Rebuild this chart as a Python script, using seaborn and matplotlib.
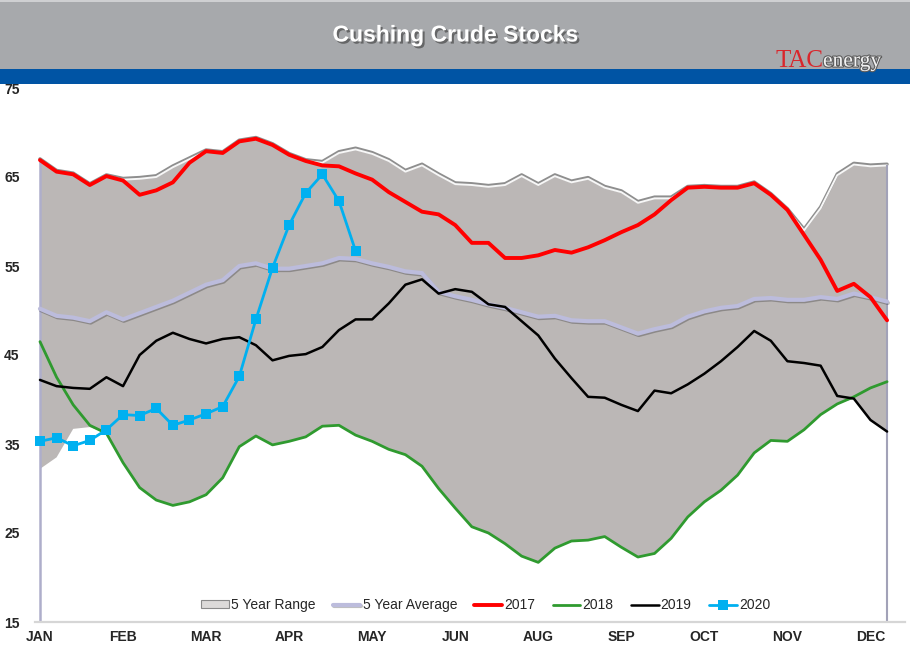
import matplotlib
matplotlib.use("Agg")
import matplotlib.pyplot as plt
import matplotlib.patheffects as pe
from matplotlib.patches import Rectangle, Patch
from matplotlib import font_manager as fm
import seaborn as sns

# ---------------- data ----------------
month_labels = ["JAN", "FEB", "MAR", "APR", "MAY", "JUN", "AUG", "SEP", "OCT", "NOV", "DEC"]
weeks = list(range(52))

range_high = [66.9, 65.6, 65.3, 64.1, 65.1, 64.7, 64.8, 65.0, 66.1, 67.0,
              67.9, 67.7, 69.0, 69.3, 68.6, 67.5, 66.8, 66.6, 67.7, 68.1,
              67.6, 66.8, 65.6, 66.3, 65.2, 64.2, 64.1, 63.9, 64.1, 65.1,
              64.1, 65.1, 64.4, 64.8, 63.8, 63.3, 62.1, 62.6, 62.6, 63.8,
              63.9, 63.8, 63.8, 64.3, 63.0, 61.3, 59.0, 61.5, 65.2, 66.4,
              66.2, 66.3]
range_low = [32.2, 33.5, 36.7, 36.9, 36.2, 32.9, 30.1, 28.7, 28.1, 28.5,
             29.3, 31.2, 34.7, 35.9, 34.9, 35.3, 35.8, 37.0, 37.1, 36.0,
             35.3, 34.4, 33.8, 32.5, 30.0, 27.8, 25.7, 25.0, 23.8, 22.4,
             21.7, 23.3, 24.1, 24.2, 24.6, 23.4, 22.3, 22.7, 24.4, 26.8,
             28.5, 29.8, 31.5, 34.0, 35.4, 35.3, 36.6, 38.3, 39.5, 40.1,
             37.7, 36.4]
avg5 = [50.2, 49.4, 49.2, 48.8, 49.8, 49.0, 49.7, 50.4, 51.1, 52.0,
        52.9, 53.4, 55.0, 55.3, 54.7, 54.7, 55.0, 55.3, 55.9, 55.8,
        55.3, 54.9, 54.4, 54.2, 52.1, 51.6, 51.2, 50.7, 50.3, 49.8,
        49.3, 49.4, 48.9, 48.8, 48.8, 48.1, 47.4, 47.9, 48.3, 49.3,
        49.9, 50.3, 50.5, 51.3, 51.4, 51.2, 51.2, 51.5, 51.3, 51.9,
        51.5, 51.0]
y2017 = [66.9, 65.6, 65.3, 64.1, 65.1, 64.6, 63.0, 63.5, 64.4, 66.6,
         67.9, 67.7, 69.0, 69.3, 68.6, 67.5, 66.8, 66.3, 66.2, 65.4,
         64.7, 63.3, 62.2, 61.1, 60.8, 59.6, 57.6, 57.6, 55.9, 55.9,
         56.2, 56.8, 56.5, 57.1, 57.9, 58.8, 59.6, 60.8, 62.4, 63.8,
         63.9, 63.8, 63.8, 64.3, 63.0, 61.3, 58.5, 55.7, 52.2, 53.0,
         51.5, 48.9]
y2018 = [46.5, 42.5, 39.4, 37.1, 36.2, 32.9, 30.1, 28.7, 28.1, 28.5,
         29.3, 31.2, 34.7, 35.9, 34.9, 35.3, 35.8, 37.0, 37.1, 36.0,
         35.3, 34.4, 33.8, 32.5, 30.0, 27.8, 25.7, 25.0, 23.8, 22.4,
         21.7, 23.3, 24.1, 24.2, 24.6, 23.4, 22.3, 22.7, 24.4, 26.8,
         28.5, 29.8, 31.5, 34.0, 35.4, 35.3, 36.6, 38.3, 39.5, 40.3,
         41.3, 42.0]
y2019 = [42.2, 41.5, 41.3, 41.2, 42.5, 41.5, 45.0, 46.6, 47.5, 46.8,
         46.3, 46.8, 47.0, 46.1, 44.4, 44.9, 45.1, 45.9, 47.8, 49.0,
         49.0, 50.8, 52.9, 53.5, 51.9, 52.4, 52.1, 50.7, 50.4, 48.8,
         47.2, 44.6, 42.4, 40.3, 40.2, 39.4, 38.7, 41.0, 40.7, 41.7,
         42.9, 44.3, 45.9, 47.7, 46.6, 44.3, 44.1, 43.8, 40.4, 40.1,
         37.7, 36.4]
y2020 = [35.3, 35.7, 34.8, 35.4, 36.6, 38.3, 38.2, 39.0, 37.1, 37.7,
         38.4, 39.2, 42.6, 49.0, 54.8, 59.6, 63.2, 65.3, 62.3, 56.7]
weeks2020 = weeks[:len(y2020)]

# ---------------- style ----------------
sns.set_style("white")
avail = {f.name for f in fm.fontManager.ttflist}
narrow = "Liberation Sans Narrow" if "Liberation Sans Narrow" in avail else "Liberation Sans"
plt.rcParams["font.family"] = ["Liberation Sans", "DejaVu Sans"]

W, H = 910, 659
fig = plt.figure(figsize=(W / 100, H / 100), dpi=100)
fig.patch.set_facecolor("white")

# header bands
fig.add_artist(Rectangle((0, 1 - 69 / H), 1, 69 / H, transform=fig.transFigure,
                         facecolor="#a7a9ac", edgecolor="none", zorder=0))
fig.add_artist(Rectangle((0, 1 - 2 / H), 1, 2 / H, transform=fig.transFigure,
                         facecolor="#cfd0d2", edgecolor="none", zorder=0))
fig.add_artist(Rectangle((0, 1 - 84 / H), 1, 15 / H, transform=fig.transFigure,
                         facecolor="#0054a4", edgecolor="none", zorder=0))
fig.text(455 / W, 1 - 35 / H, "Cushing Crude Stocks", ha="center", va="center",
         color="white", fontsize=16.5, fontweight="bold",
         path_effects=[pe.SimplePatchShadow(offset=(1.5, -1.5), shadow_rgbFace="#4a4a4a", alpha=0.7),
                       pe.Normal()])
fig.text(776 / W, 1 - 61 / H, "TAC", ha="left", va="center", color="#d9262c",
         fontsize=18, family=["Liberation Serif", "DejaVu Serif"])
fig.text(823 / W, 1 - 62 / H, "energy", ha="left", va="center", color="#f2f2f2",
         fontsize=15.5, family=["Liberation Serif", "DejaVu Serif"],
         path_effects=[pe.withStroke(linewidth=1.6, foreground="#5c5c5c")])

# plot area
ax = fig.add_axes([35 / W, 1 - 622 / H, 870 / W, 534 / H])
ax.set_facecolor("white")

ax.fill_between(weeks, range_low, range_high, facecolor="#bbb7b6", edgecolor="none",
                zorder=1, label="5 Year Range")
ax.plot(weeks, range_high, color="#f7f7f7", lw=1.4, zorder=1.2,
        path_effects=[pe.Stroke(linewidth=2.4, foreground="#8e8e8e", offset=(0, 0.9)), pe.Normal()])
ax.vlines(0, 15, range_high[0], color="#aeaecb", lw=1.8, zorder=1.3)
ax.vlines(51, 15, range_high[-1], color="#a2a2b8", lw=1.5, zorder=1.3)

sns.lineplot(x=weeks, y=avg5, ax=ax, color="#bcbcdc", lw=3.0, label="5 Year Average", zorder=2,
             path_effects=[pe.SimpleLineShadow(offset=(0.6, -1.0), alpha=0.25), pe.Normal()])
sns.lineplot(x=weeks, y=y2017, ax=ax, color="#ff0000", lw=2.8, label="2017", zorder=3)
sns.lineplot(x=weeks, y=y2018, ax=ax, color="#2f9a2f", lw=2.0, label="2018", zorder=3.1)
sns.lineplot(x=weeks, y=y2019, ax=ax, color="#000000", lw=1.8, label="2019", zorder=3.2)
sns.lineplot(x=weeks2020, y=y2020, ax=ax, color="#00b0f0", lw=2.0, marker="s",
             markersize=7.5, markeredgewidth=0, label="2020", zorder=4)

ax.set_xlim(-0.30, 52.08)
ax.set_ylim(15, 75)
ax.set_yticks(list(range(15, 76, 10)))
ax.set_xticks(list(range(0, 51, 5)))
ax.set_xticklabels(month_labels)
ax.set_xlabel("")
ax.set_ylabel("")
for lab in ax.get_xticklabels() + ax.get_yticklabels():
    lab.set_fontfamily([narrow, "DejaVu Sans"])
    lab.set_fontweight("bold")
    lab.set_fontsize(10)
ax.tick_params(axis="both", length=0)
ax.tick_params(axis="x", pad=6)
ax.tick_params(axis="y", pad=11)
for s in ["top", "right", "left"]:
    ax.spines[s].set_visible(False)
ax.spines["bottom"].set_color("#d6d6d6")
ax.spines["bottom"].set_linewidth(1.6)

# legend
handles, labels = ax.get_legend_handles_labels()
ax.get_legend().remove()
hmap = dict(zip(labels, handles))
hmap["5 Year Range"] = Patch(facecolor="#dcdad9", edgecolor="#8a8a8a", linewidth=0.8)
order = ["5 Year Range", "5 Year Average", "2017", "2018", "2019", "2020"]
fig.legend([hmap[k] for k in order], order, loc="center",
           bbox_to_anchor=(485.5 / W, 1 - 605 / H), ncol=6, frameon=False,
           fontsize=10, handlelength=2.0, handleheight=0.5, handletextpad=0.15,
           columnspacing=1.25)

fig.savefig("out.png", dpi=100)
